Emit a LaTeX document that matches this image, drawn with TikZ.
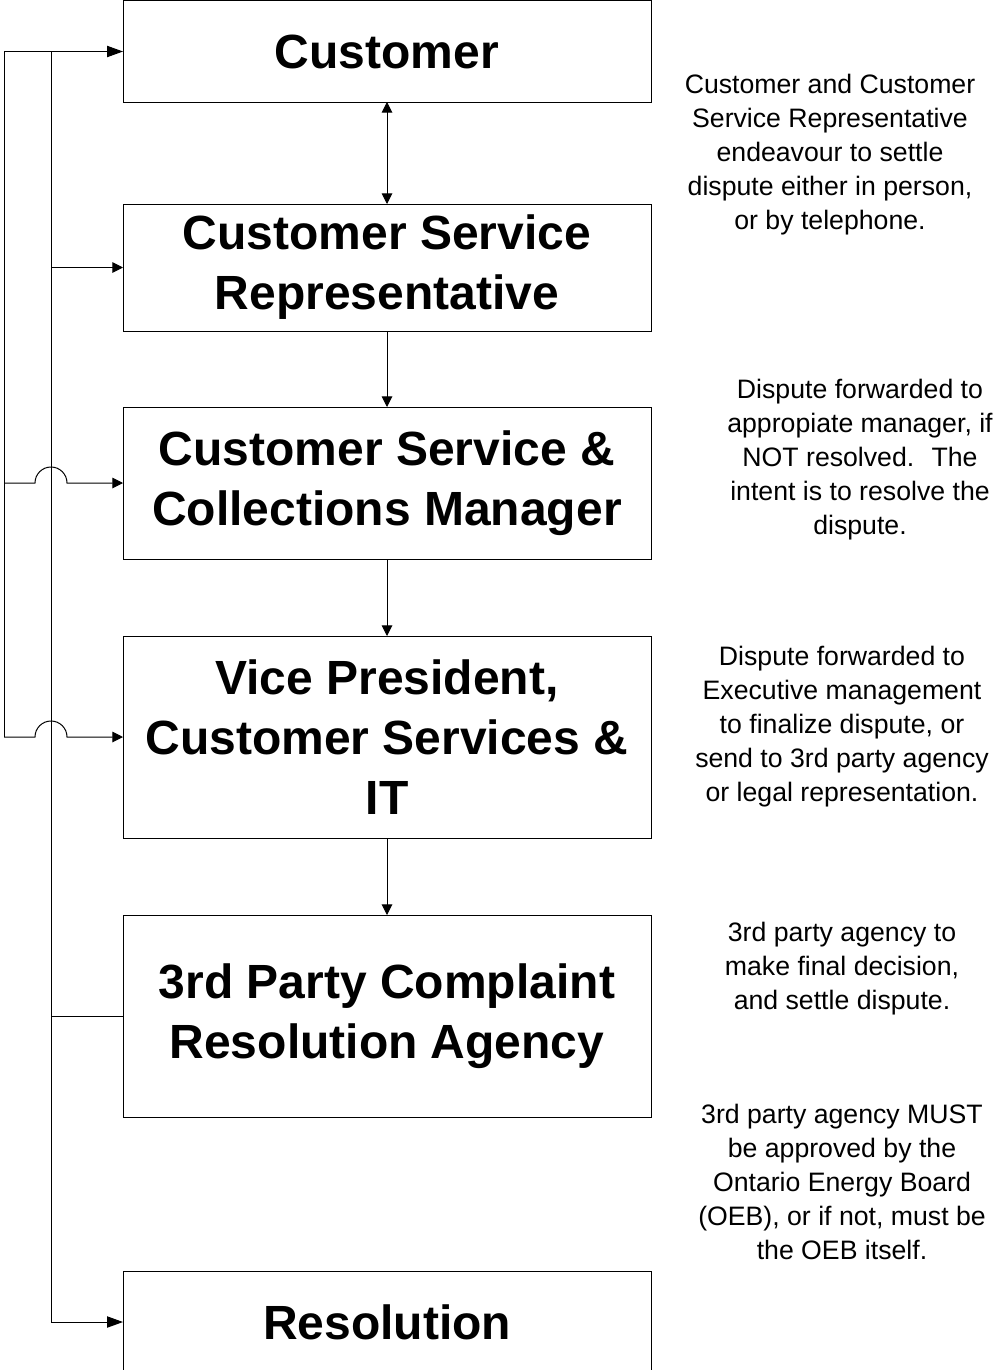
\documentclass[tikz,border=0pt]{standalone}
\usepackage{fontspec}
\setmainfont{Liberation Sans}
\usetikzlibrary{arrows.meta}

\begin{document}
\begin{tikzpicture}[x=0.75pt, y=-0.75pt, line width=0.75pt,
    stage/.style={draw, minimum width=396pt, inner sep=0pt, outer sep=0pt, align=center, font=\bfseries\fontsize{36}{45}\selectfont},
    note/.style={align=center, font=\fontsize{20}{25.5}\selectfont},
    arr/.style={-{Triangle[length=8pt, width=8pt]}},
    bigarr/.style={-{Triangle[length=12pt, width=8.5pt]}}]
    \useasboundingbox (0,0) rectangle (995,1370);
    \node[stage, minimum height=75.75pt] (cust) at (387,51.5) {Customer};
    \node[stage, minimum height=95.25pt] (csr) at (387,267.5) {Customer Service\\Representative};
    \node[stage, minimum height=114pt] (mgr) at (387,483) {Customer Service \&\\Collections Manager};
    \node[stage, minimum height=151.5pt] (vp) at (387,737) {Vice President,\\Customer Services \&\\IT};
    \node[stage, minimum height=151.5pt] (agency) at (387,1016) {3rd Party Complaint\\Resolution Agency};
    \node[stage, minimum height=76.5pt] (res) at (387,1322) {Resolution};
    \draw[{Triangle[length=8pt, width=8pt]}-{Triangle[length=8pt, width=8pt]}] (cust) -- (csr);
    \draw[arr] (csr) -- (mgr);
    \draw[arr] (mgr) -- (vp);
    \draw[arr] (vp) -- (agency);
    % notes
    \node[note] (n1) at (830,155) {Customer and Customer\\Service Representative\\endeavour to settle\\dispute either in person,\\or by telephone.};
    \node[note] (n2) at (860,460) {Dispute forwarded to\\appropiate manager, if\\NOT resolved.~ The\\intent is to resolve the\\dispute.};
    \node[note] (n3) at (842,727) {Dispute forwarded to\\Executive management\\to finalize dispute, or\\send to 3rd party agency\\or legal representation.};
    \node[note] (n4) at (842,969) {3rd party agency to\\make final decision,\\and settle dispute.};
    \node[note] (n5) at (842,1182) {3rd party agency MUST\\be approved by the\\Ontario Energy Board\\(OEB), or if not, must be\\the OEB itself.};
    % return lines
    \coordinate (outer) at (4,51.5);
    \coordinate (inner) at (51,51.5);
    \draw[bigarr] (outer) -- (cust.west);
    \draw (outer) -- (outer |- vp.west);
    \draw (agency.west) -- (agency.west -| inner);
    \draw (inner) -- (inner |- res.west);
    \draw[arr] (inner |- csr.west) -- (csr.west);
    \draw[bigarr] (inner |- res.west) -- (res.west);
    \foreach \n in {mgr, vp}
        \draw[arr] (outer |- \n.west) -- ++(31,0) arc[start angle=180, end angle=0, radius=12pt] -- (\n.west);
\end{tikzpicture}
\end{document}
